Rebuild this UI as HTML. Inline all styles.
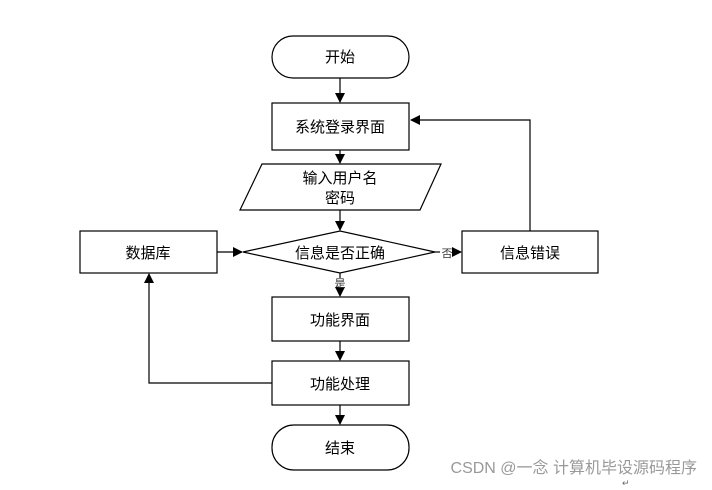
<!DOCTYPE html>
<html><head><meta charset="utf-8"><style>
body{margin:0;background:#fff;}
svg text{font-family:"Liberation Sans","Noto Sans CJK SC",sans-serif;}
</style></head><body>
<svg width="712" height="485" viewBox="0 0 712 485" xmlns="http://www.w3.org/2000/svg">
<defs><marker id="a" markerWidth="10" markerHeight="10" refX="9" refY="5" orient="auto" markerUnits="userSpaceOnUse"><path d="M0,0 L10,5 L0,10 z" fill="#000"/></marker></defs>
<g fill="none" stroke="#000" stroke-width="1.2">
<rect x="272" y="36" width="137" height="42" rx="21"/>
<rect x="272" y="103" width="137" height="47"/>
<polygon points="262,164 441,164 420,210 240,210"/>
<polygon points="243,252 340,231 435,252 340,273"/>
<rect x="80" y="231" width="137" height="42"/>
<rect x="462" y="231" width="136" height="42"/>
<rect x="272" y="297" width="137" height="44"/>
<rect x="272" y="361" width="137" height="44"/>
<rect x="272" y="425" width="137" height="45" rx="22"/>
<line x1="340" y1="78" x2="340" y2="102" marker-end="url(#a)"/>
<line x1="340" y1="150" x2="340" y2="163" marker-end="url(#a)"/>
<line x1="340" y1="210" x2="340" y2="230" marker-end="url(#a)"/>
<line x1="217" y1="252" x2="242" y2="252" marker-end="url(#a)"/>
<line x1="435" y1="252" x2="440" y2="252"/>
<line x1="454" y1="252" x2="461" y2="252" marker-end="url(#a)"/>
<polyline points="530,231 530,120 411,120" marker-end="url(#a)"/>
<line x1="340" y1="273" x2="340" y2="278"/>
<line x1="340" y1="290" x2="340" y2="296" marker-end="url(#a)"/>
<line x1="340" y1="341" x2="340" y2="360" marker-end="url(#a)"/>
<line x1="340" y1="405" x2="340" y2="424" marker-end="url(#a)"/>
<polyline points="272,383 149,383 149,274" marker-end="url(#a)"/>
</g>
<g font-size="15" text-anchor="middle" fill="#000">
<text x="340" y="62">开始</text>
<text x="340" y="132">系统登录界面</text>
<text x="340" y="183">输入用户名</text>
<text x="340" y="203">密码</text>
<text x="340" y="258">信息是否正确</text>
<text x="148" y="258">数据库</text>
<text x="530" y="258">信息错误</text>
<text x="340" y="325">功能界面</text>
<text x="340" y="389">功能处理</text>
<text x="340" y="453">结束</text>
</g>
<text x="447" y="257" font-size="11" text-anchor="middle" fill="#333">否</text>
<text x="340" y="287" font-size="11" text-anchor="middle" fill="#333">是</text>
<text x="697" y="473" font-size="16" text-anchor="end" fill="#999">CSDN @一念 计算机毕设源码程序</text>
<text x="622" y="486" font-size="9" fill="#666">↵</text>
</svg>
</body></html>
